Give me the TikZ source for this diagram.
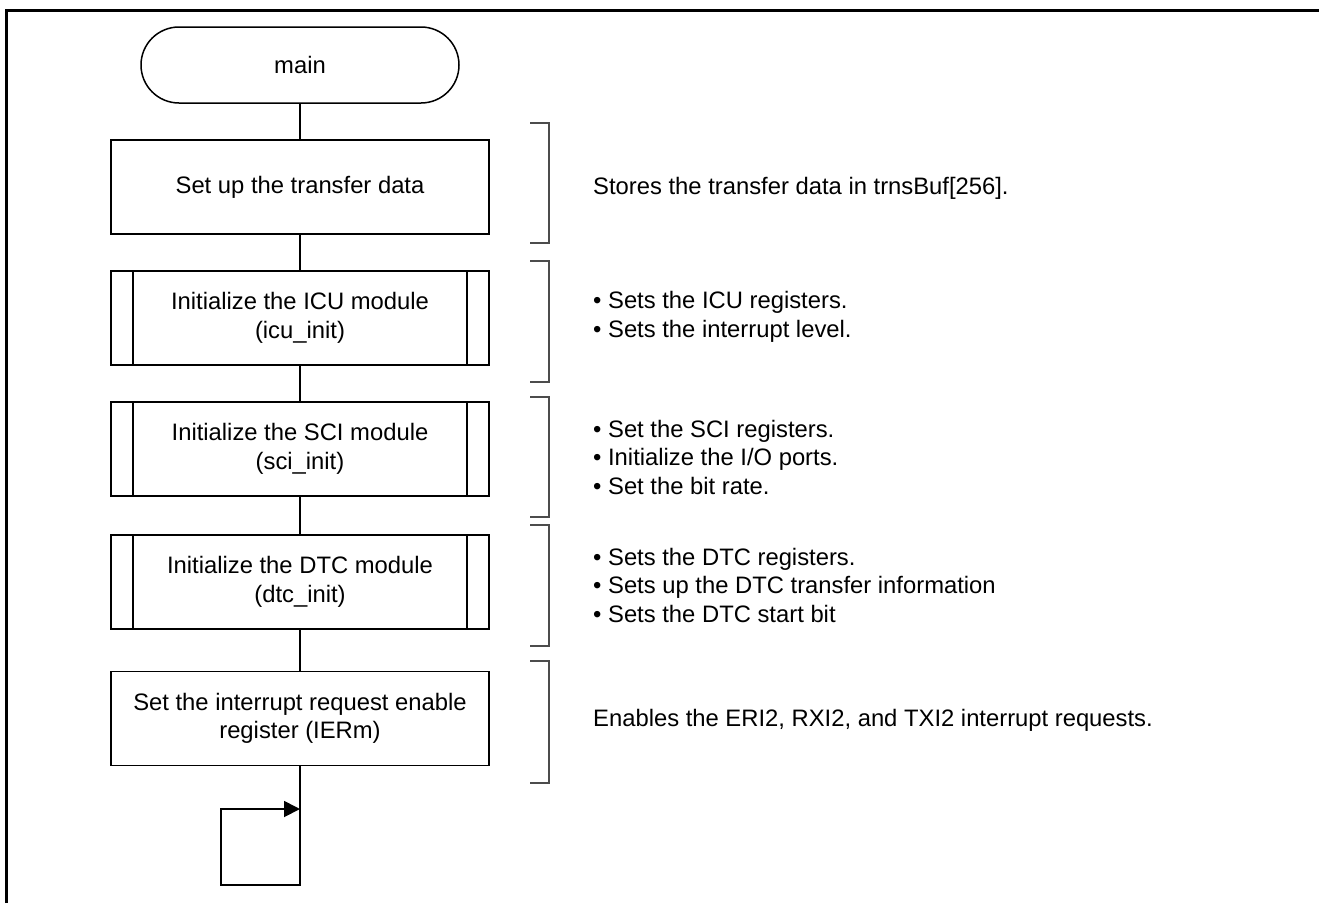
\documentclass[tikz,border=0pt]{standalone}
\usepackage{fontspec}
\setmainfont{Liberation Sans}
\usetikzlibrary{arrows.meta}
\begin{document}
\begin{tikzpicture}[x=1pt,y=-1pt,
  font=\fontsize{23.8}{28.5}\selectfont,
  box/.style={draw, line width=1.8pt, minimum width=378pt, minimum height=94pt, align=center, inner sep=0pt},
  subbox/.style={box, path picture={
      \draw[line width=1.8pt] ([xshift=22pt]path picture bounding box.north west) -- ([xshift=22pt]path picture bounding box.south west);
      \draw[line width=1.8pt] ([xshift=-22pt]path picture bounding box.north east) -- ([xshift=-22pt]path picture bounding box.south east);}},
  term/.style={draw, line width=1.5pt, rounded corners=38pt, minimum width=318pt, minimum height=76pt, inner sep=0pt},
  conn/.style={line width=1.8pt},
  brk/.style={draw=black!70, line width=1.2pt},
  note/.style={anchor=west, align=left, inner sep=0pt}]
\useasboundingbox (0,0) rectangle (1319,903);
% frame
\draw[line width=3pt] (6,903) -- (6,10) -- (1319,10);
% flow
\node[term] (main) at (300,65) {main};
\node[box] (b1) at (300,187) {Set up the transfer data};
\node[subbox] (icu) at (300,318) {Initialize the ICU module\\(icu\_init)};
\node[subbox] (sci) at (300,449) {Initialize the SCI module\\(sci\_init)};
\node[subbox] (dtc) at (300,582) {Initialize the DTC module\\(dtc\_init)};
\node[box] (ier) at (300,718.5) {Set the interrupt request enable\\register (IERm)};
\draw[conn] (main) -- (b1);
\draw[conn] (b1) -- (icu);
\draw[conn] (icu) -- (sci);
\draw[conn] (sci) -- (dtc);
\draw[conn] (dtc) -- (ier);
\coordinate (lb) at (300,885);
\coordinate (lt) at (221,809);
\coordinate (la) at (300,809);
\draw[conn, -{Triangle[length=16pt,width=16pt]}] (ier.south) -- (lb) -| (lt) -- (la);
% brackets
\draw[brk] (530,123) -- (549,123) -- (549,243) -- (530,243);
\draw[brk] (530,261) -- (549,261) -- (549,382) -- (530,382);
\draw[brk] (530,397) -- (549,397) -- (549,517) -- (530,517);
\draw[brk] (530,525) -- (549,525) -- (549,646) -- (530,646);
\draw[brk] (530,661) -- (549,661) -- (549,783) -- (530,783);
% notes
\node[note] (n1) at (593,188) {Stores the transfer data in trnsBuf[256].};
\node[note] (n2) at (593,317) {• Sets the ICU registers.\\• Sets the interrupt level.};
\node[note] (n3) at (593,457) {• Set the SCI registers.\\• Initialize the I/O ports.\\• Set the bit rate.};
\node[note] (n4) at (593,585) {• Sets the DTC registers.\\• Sets up the DTC transfer information\\• Sets the DTC start bit};
\node[note] (n5) at (593,720) {Enables the ERI2, RXI2, and TXI2 interrupt requests.};
\end{tikzpicture}
\end{document}
